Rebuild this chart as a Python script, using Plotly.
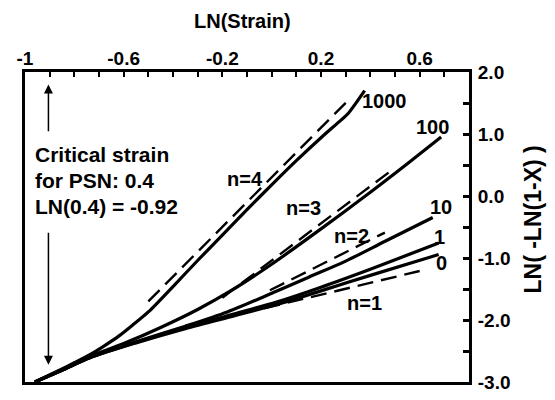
import plotly.graph_objects as go

# ---- data ----
x_1000 = [-0.96, -0.85, -0.80, -0.737, -0.68, -0.62, -0.56, -0.50, -0.40, -0.30, -0.20, -0.10, 0.00, 0.10, 0.20, 0.28, 0.31, 0.34, 0.377]
y_1000 = [-3.0, -2.79, -2.69, -2.56, -2.42, -2.26, -2.07, -1.87, -1.46, -1.04, -0.63, -0.22, 0.18, 0.57, 0.94, 1.22, 1.33, 1.49, 1.70]

x_100 = [-0.96, -0.85, -0.737, -0.60, -0.45, -0.30, -0.17, 0.0, 0.2, 0.4, 0.55, 0.687]
y_100 = [-3.0, -2.80, -2.59, -2.38, -2.12, -1.83, -1.54, -1.10, -0.53, 0.06, 0.52, 0.95]

x_10 = [-0.96, -0.85, -0.737, -0.55, -0.35, -0.18, 0.0, 0.15, 0.30, 0.46, 0.653]
y_10 = [-3.0, -2.81, -2.60, -2.35, -2.10, -1.87, -1.57, -1.31, -1.05, -0.73, -0.347]

x_1 = [-0.96, -0.85, -0.737, -0.55, -0.35, -0.15, 0.02, 0.2, 0.4, 0.677]
y_1 = [-3.0, -2.81, -2.61, -2.36, -2.12, -1.90, -1.71, -1.47, -1.18, -0.76]

x_0 = [-0.96, -0.85, -0.737, -0.55, -0.35, -0.15, 0.02, 0.2, 0.4, 0.677]
y_0 = [-3.0, -2.81, -2.61, -2.37, -2.14, -1.93, -1.75, -1.53, -1.28, -0.945]

# dashed reference slopes (end points)
x_n4 = [-0.50, 0.302]
y_n4 = [-1.70, 1.51]
x_n3 = [-0.20, 0.478]
y_n3 = [-1.64, 0.39]
x_n2 = [-0.007, 0.459]
y_n2 = [-1.52, -0.59]
x_n1 = [-0.03, 0.60]
y_n1 = [-1.81, -1.21]

curve_labels = ["1000", "100", "10", "1", "0"]
curve_label_x = [0.457, 0.652, 0.687, 0.682, 0.687]
curve_label_y = [1.53, 1.11, -0.17, -0.66, -1.08]

n_labels = ["n=4", "n=3", "n=2", "n=1"]
n_label_x = [-0.109, 0.13, 0.323, 0.377]
n_label_y = [0.28, -0.19, -0.64, -1.73]

x_ticks = [-1, -0.6, -0.2, 0.2, 0.6]
x_ticktext = ["-1", "-0.6", "-0.2", "0.2", "0.6"]
y_ticks = [-3, -2, -1, 0, 1, 2]
y_ticktext = ["-3.0", "-2.0", "-1.0", "0.0", "1.0", "2.0"]

note_lines = ["Critical strain", "for PSN: 0.4", "LN(0.4) = -0.92"]
note_y = [0.67, 0.25, -0.17]
critical_ln = -0.905

FONT = "Liberation Sans, Arial, sans-serif"

fig = go.Figure()

for xs, ys in [(x_1000, y_1000), (x_100, y_100), (x_10, y_10), (x_1, y_1), (x_0, y_0)]:
    fig.add_trace(go.Scatter(x=xs, y=ys, mode="lines",
                             line=dict(color="black", width=3.2, shape="spline", smoothing=0.8),
                             showlegend=False, hoverinfo="skip"))

for xs, ys in [(x_n4, y_n4), (x_n3, y_n3), (x_n2, y_n2), (x_n1, y_n1)]:
    fig.add_trace(go.Scatter(x=xs, y=ys, mode="lines", line=dict(color="black", width=2.4, dash="16px,8px"),
                             showlegend=False, hoverinfo="skip"))

annotations = []
for t, x, y in zip(curve_labels, curve_label_x, curve_label_y):
    annotations.append(dict(x=x, y=y, text=t, showarrow=False, xref="x", yref="y",
                            font=dict(family=FONT, size=20, color="black", weight="bold")))
for t, x, y in zip(n_labels, n_label_x, n_label_y):
    annotations.append(dict(x=x, y=y, text=t, showarrow=False, xref="x", yref="y",
                            font=dict(family=FONT, size=20, color="black", weight="bold")))
for t, y in zip(note_lines, note_y):
    annotations.append(dict(x=-0.968, y=y, text=t, showarrow=False, xref="x", yref="y", xanchor="left",
                            font=dict(family=FONT, size=21, color="black", weight="bold")))

# double arrow split by the note
annotations.append(dict(x=critical_ln, y=1.80, ax=critical_ln, ay=1.02, xref="x", yref="y", axref="x", ayref="y",
                        text="", showarrow=True, arrowhead=2, arrowsize=1.2, arrowwidth=1.5, arrowcolor="black"))
annotations.append(dict(x=critical_ln, y=-2.72, ax=critical_ln, ay=-0.57, xref="x", yref="y", axref="x", ayref="y",
                        text="", showarrow=True, arrowhead=2, arrowsize=1.2, arrowwidth=1.5, arrowcolor="black"))

# axis titles
annotations.append(dict(x=1.144, y=0.524, xref="paper", yref="paper", xanchor="center", yanchor="middle",
                        text="LN( -LN(1-X) )", textangle=-90, showarrow=False,
                        font=dict(family=FONT, size=23, color="black", weight="bold")))
annotations.append(dict(x=0.489, y=1.166, xref="paper", yref="paper", xanchor="center", yanchor="middle",
                        text="LN(Strain)", showarrow=False,
                        font=dict(family=FONT, size=20, color="black", weight="bold")))

fig.update_layout(
    width=555, height=400,
    margin=dict(l=25, r=86, t=72, b=7),
    paper_bgcolor="white", plot_bgcolor="white",
    font=dict(family=FONT, color="black"),
    annotations=annotations,
    showlegend=False,
)

fig.update_xaxes(
    range=[-1, 0.8], side="top", showgrid=False, zeroline=False,
    showline=True, linewidth=3, linecolor="black", mirror=True,
    tickmode="array", tickvals=x_ticks, ticktext=x_ticktext,
    ticks="inside", ticklen=5, tickwidth=2, tickcolor="black",
    minor=dict(tickmode="linear", tick0=-1, dtick=0.1, ticks="inside", ticklen=5, tickwidth=2, tickcolor="black", showgrid=False),
    tickfont=dict(family=FONT, size=19, color="black", weight="bold"),
    ticklabelstandoff=-4,
)

fig.update_yaxes(
    range=[-3, 2], side="right", showgrid=False, zeroline=False,
    showline=True, linewidth=3, linecolor="black", mirror=True,
    tickmode="array", tickvals=y_ticks, ticktext=y_ticktext,
    ticks="inside", ticklen=6, tickwidth=3, tickcolor="black",
    minor=dict(tickmode="linear", tick0=-3, dtick=0.5, ticks="inside", ticklen=6, tickwidth=3, tickcolor="black", showgrid=False),
    tickfont=dict(family=FONT, size=19, color="black", weight="bold"),
    ticklabelstandoff=2, ticklabeloverflow="allow",
)

fig.write_html("out.html")
